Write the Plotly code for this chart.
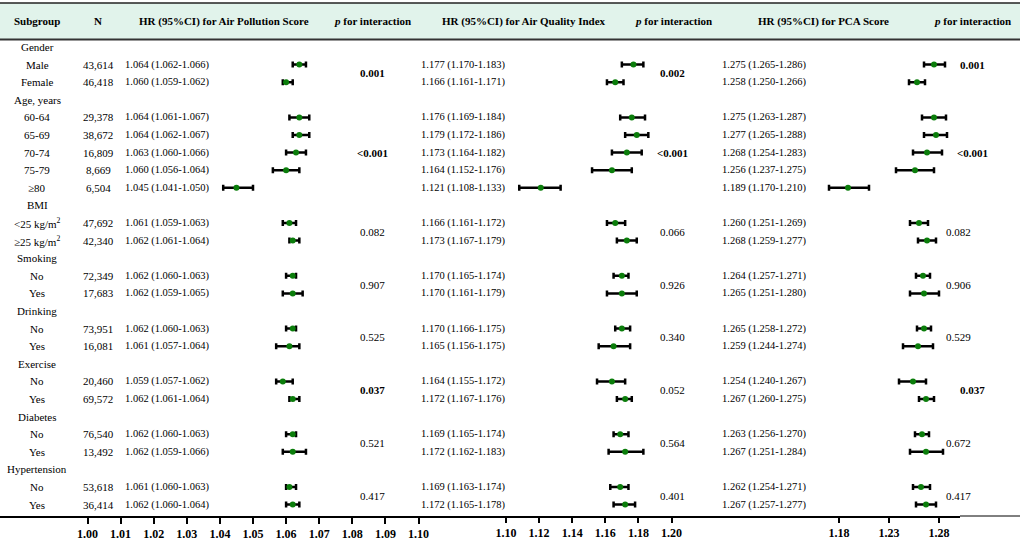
import plotly.graph_objects as go

# table rows, top to bottom
labels = ["Gender", "Male", "Female", "Age, years", "60-64", "65-69", "70-74", "75-79", "≥80",
          "BMI", "&lt;25 kg/m<sup>2</sup>", "≥25 kg/m<sup>2</sup>", "Smoking", "No", "Yes",
          "Drinking", "No", "Yes", "Exercise", "No", "Yes", "Diabetes", "No", "Yes",
          "Hypertension", "No", "Yes"]
n_values = ["", "43,614", "46,418", "", "29,378", "38,672", "16,809", "8,669", "6,504",
            "", "47,692", "42,340", "", "72,349", "17,683", "", "73,951", "16,081",
            "", "20,460", "69,572", "", "76,540", "13,492", "", "53,618", "36,414"]

# Air Pollution Score
ap_hr = [None, 1.064, 1.060, None, 1.064, 1.064, 1.063, 1.060, 1.045, None, 1.061, 1.062, None,
         1.062, 1.062, None, 1.062, 1.061, None, 1.059, 1.062, None, 1.062, 1.062, None, 1.061, 1.062]
ap_lo = [None, 1.062, 1.059, None, 1.061, 1.062, 1.060, 1.056, 1.041, None, 1.059, 1.061, None,
         1.060, 1.059, None, 1.060, 1.057, None, 1.057, 1.061, None, 1.060, 1.059, None, 1.060, 1.060]
ap_hi = [None, 1.066, 1.062, None, 1.067, 1.067, 1.066, 1.064, 1.050, None, 1.063, 1.064, None,
         1.063, 1.065, None, 1.063, 1.064, None, 1.062, 1.064, None, 1.063, 1.066, None, 1.063, 1.064]

# Air Quality Index
aqi_hr = [None, 1.177, 1.166, None, 1.176, 1.179, 1.173, 1.164, 1.121, None, 1.166, 1.173, None,
          1.170, 1.170, None, 1.170, 1.165, None, 1.164, 1.172, None, 1.169, 1.172, None, 1.169, 1.172]
aqi_lo = [None, 1.170, 1.161, None, 1.169, 1.172, 1.164, 1.152, 1.108, None, 1.161, 1.167, None,
          1.165, 1.161, None, 1.166, 1.156, None, 1.155, 1.167, None, 1.165, 1.162, None, 1.163, 1.165]
aqi_hi = [None, 1.183, 1.171, None, 1.184, 1.186, 1.182, 1.176, 1.133, None, 1.172, 1.179, None,
          1.174, 1.179, None, 1.175, 1.175, None, 1.172, 1.176, None, 1.174, 1.183, None, 1.174, 1.178]

# PCA Score
pca_hr = [None, 1.275, 1.258, None, 1.275, 1.277, 1.268, 1.256, 1.189, None, 1.260, 1.268, None,
          1.264, 1.265, None, 1.265, 1.259, None, 1.254, 1.267, None, 1.263, 1.267, None, 1.262, 1.267]
pca_lo = [None, 1.265, 1.250, None, 1.263, 1.265, 1.254, 1.237, 1.170, None, 1.251, 1.259, None,
          1.257, 1.251, None, 1.258, 1.244, None, 1.240, 1.260, None, 1.256, 1.251, None, 1.254, 1.257]
pca_hi = [None, 1.286, 1.266, None, 1.287, 1.288, 1.283, 1.275, 1.210, None, 1.269, 1.277, None,
          1.271, 1.280, None, 1.272, 1.274, None, 1.267, 1.275, None, 1.270, 1.284, None, 1.271, 1.277]

# p for interaction, one per group (Gender, Age, BMI, Smoking, Drinking, Exercise, Diabetes, Hypertension)
ap_p = ["0.001", "&lt;0.001", "0.082", "0.907", "0.525", "0.037", "0.521", "0.417"]
aqi_p = ["0.002", "&lt;0.001", "0.066", "0.926", "0.340", "0.052", "0.564", "0.401"]
pca_p = ["0.001", "&lt;0.001", "0.082", "0.906", "0.529", "0.037", "0.672", "0.417"]
ap_p_bold = [True, True, False, False, False, True, False, False]
aqi_p_bold = [True, True, False, False, False, False, False, False]
pca_p_bold = [True, True, False, False, False, True, False, False]

# axis ticks
ap_ticks = [1.00, 1.01, 1.02, 1.03, 1.04, 1.05, 1.06, 1.07, 1.08, 1.09, 1.10]
aqi_ticks = [1.10, 1.12, 1.14, 1.16, 1.18, 1.20]
pca_ticks = [1.18, 1.23, 1.28]

W, H = 1020, 542
FONT = "Liberation Serif"
ROW0, ROWH = 47, 17.6   # pixel of first row, row height
AX_PX = 516             # bottom axis line
AX_END = 960            # end of thick axis line


def px_x(px):
    return px / W


def px_y(px):
    return 1 - px / H


def row_at(px):
    return (px - ROW0) / ROWH


def x_range(p1, v1, p2, v2):
    # value range over domain 0..AX_END given two calibration points
    k = (v2 - v1) / (p2 - p1)
    return [v1 - p1 * k, v1 + (AX_END - p1) * k]


fig = go.Figure()

panels = [(ap_hr, ap_lo, ap_hi, "x"), (aqi_hr, aqi_lo, aqi_hi, "x2"), (pca_hr, pca_lo, pca_hi, "x3")]
for hr, lo, hi, ax in panels:
    rows = [i for i, v in enumerate(hr) if v is not None]
    fig.add_trace(go.Scatter(
        x=[hr[i] for i in rows], y=rows, xaxis=ax, yaxis="y", mode="markers",
        marker=dict(color="#0b7d0b", size=6),
        error_x=dict(type="data", symmetric=False,
                     array=[hi[i] - hr[i] for i in rows],
                     arrayminus=[hr[i] - lo[i] for i in rows],
                     color="black", thickness=2.5, width=3),
        showlegend=False, hoverinfo="skip"))

ann = []


def txt(px, row, s, anchor="center", bold=False, size=11):
    ann.append(dict(x=px_x(px), xref="paper", y=row, yref="y", text="<b>" + s + "</b>" if bold else s,
                    xanchor=anchor, yanchor="middle", showarrow=False,
                    font=dict(family=FONT, size=size, color="black")))


# header
hrow = row_at(21)
txt(37, hrow, "Subgroup", bold=True)
txt(98, hrow, "N", bold=True)
txt(224, hrow, "HR (95%CI) for Air Pollution Score", bold=True)
txt(372, hrow, "<i>p</i> for interaction", bold=True)
txt(524, hrow, "HR (95%CI) for Air Quality Index", bold=True)
txt(673, hrow, "<i>p</i> for interaction", bold=True)
txt(823, hrow, "HR (95%CI) for PCA Score", bold=True)
txt(972, hrow, "<i>p</i> for interaction", bold=True)

# body
for i, lab in enumerate(labels):
    txt(37, i, lab)
    if n_values[i]:
        txt(98, i, n_values[i])
        txt(123, i, "%.3f (%.3f-%.3f)" % (ap_hr[i], ap_lo[i], ap_hi[i]), anchor="left", size=10.5)
        txt(419, i, "%.3f (%.3f-%.3f)" % (aqi_hr[i], aqi_lo[i], aqi_hi[i]), anchor="left", size=10.5)
        txt(720, i, "%.3f (%.3f-%.3f)" % (pca_hr[i], pca_lo[i], pca_hi[i]), anchor="left", size=10.5)

# groups: header rows have no N
heads = [i for i, n in enumerate(n_values) if not n] + [len(labels)]
for g in range(len(heads) - 1):
    kids = list(range(heads[g] + 1, heads[g + 1]))
    mid = sum(kids) / len(kids)
    txt(372, mid, ap_p[g], bold=ap_p_bold[g])
    txt(672, mid, aqi_p[g], bold=aqi_p_bold[g])
    y3 = kids[0] if g == 0 else mid
    txt(972 if pca_p_bold[g] else 958, y3, pca_p[g], bold=pca_p_bold[g])

shapes = [
    dict(type="rect", xref="paper", yref="paper", x0=0, x1=1, y0=px_y(39.5), y1=px_y(3),
         fillcolor="#e1f3eb", line_width=0, layer="below"),
    dict(type="line", xref="paper", yref="paper", x0=0, x1=1, y0=px_y(3), y1=px_y(3),
         line=dict(color="#222", width=1.5)),
    dict(type="line", xref="paper", yref="paper", x0=0, x1=1, y0=px_y(39.5), y1=px_y(39.5),
         line=dict(color="#333", width=2)),
    dict(type="line", xref="paper", yref="paper", x0=px_x(AX_END), x1=1, y0=px_y(AX_PX), y1=px_y(AX_PX),
         line=dict(color="black", width=1)),
]


def tick_axis(vals, rng, **kw):
    d = dict(domain=[0, AX_END / W], range=rng, tickvals=vals,
             ticktext=["<b>%.2f</b>" % v for v in vals],
             ticks="outside", ticklen=6, tickwidth=1.5, tickcolor="black",
             tickfont=dict(family=FONT, size=12, color="black"),
             showgrid=False, zeroline=False, fixedrange=True)
    d.update(kw)
    return d


fig.update_layout(
    width=W, height=H, autosize=False,
    margin=dict(l=0, r=0, t=0, b=0),
    paper_bgcolor="white", plot_bgcolor="rgba(0,0,0,0)",
    xaxis=tick_axis(ap_ticks, x_range(87.5, 1.00, 418.5, 1.10),
                    showline=True, linewidth=2, linecolor="black"),
    xaxis2=tick_axis(aqi_ticks, x_range(506, 1.10, 671.5, 1.20), overlaying="x", anchor="y", side="bottom"),
    xaxis3=tick_axis(pca_ticks, x_range(839, 1.18, 939, 1.28), overlaying="x", anchor="y", side="bottom"),
    yaxis=dict(domain=[(H - AX_PX) / H, 1], range=[row_at(AX_PX), row_at(0)], visible=False,
               fixedrange=True),
    annotations=ann, shapes=shapes,
)

# page body has a default margin; drop it so the chart sits at the window corner
fig.write_html("out.html", config={"displayModeBar": False},
               post_script="document.body.style.margin='0';document.body.style.overflow='hidden';")
